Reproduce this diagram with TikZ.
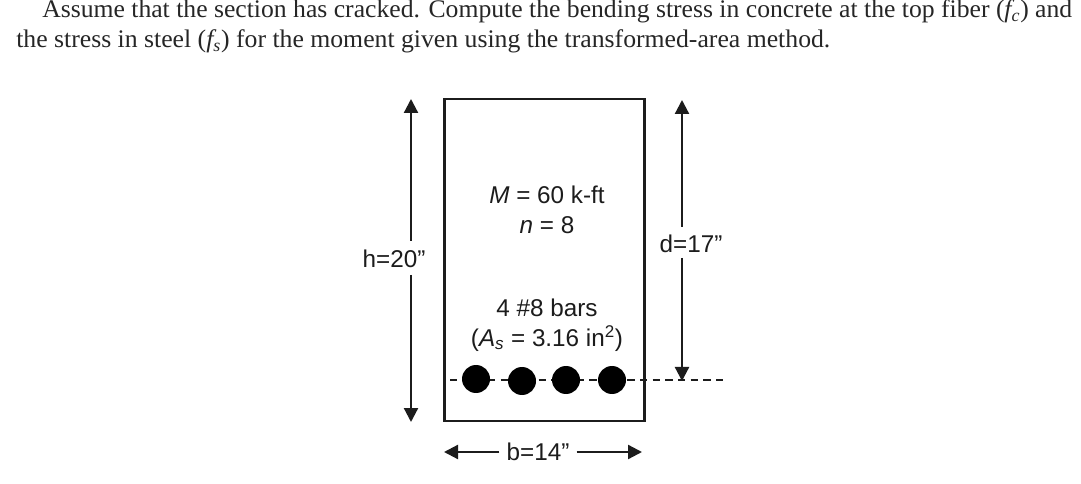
\documentclass[tikz,border=0pt]{standalone}
\usepackage{fontspec}
\usetikzlibrary{arrows.meta}
\setmainfont{Liberation Serif}
\newfontfamily\arialf{Liberation Sans}
\definecolor{ink}{HTML}{1C1C1C}
\tikzset{
  x=0.75pt,y=-0.75pt,
  prose/.style={anchor=base west,inner sep=0pt,text=black!85,font=\fontsize{19pt}{22pt}\selectfont},
  lab/.style={inner sep=0pt,text=ink,font=\arialf\fontsize{18.2pt}{22.3pt}\selectfont,align=center},
  section/.style={draw=ink,line width=1.6pt,minimum width=150pt,minimum height=241.5pt,inner sep=0pt},
  bar/.style={circle,fill=black,inner sep=0pt,minimum size=21pt},
  dim/.style={draw=ink,line width=1.7pt,-{Triangle[length=10.5pt,width=10.5pt]}},
  axisline/.style={draw=ink,line width=1.2pt,dash pattern=on 5.5pt off 4pt},
}
\begin{document}
\begin{tikzpicture}
\useasboundingbox (0,0) rectangle (1081,484);
\fill[white] (0,0) rectangle (1081,484);
\node[prose] (l1) at (42,18) {\resizebox{772.5pt}{\height}{Assume that the section has cracked. Compute the bending stress in concrete at the top fiber (\textit{f\textsubscript{c}}) and}};
\node[prose] (l2) at (16,48) {\resizebox{610.5pt}{\height}{the stress in steel (\textit{f\textsubscript{s}}) for the moment given using the transformed-area method.}};
\coordinate (axisL) at (450,380);
\coordinate (axisR) at (728,380);
\draw[axisline] (axisL) -- (axisR);
\node[section] (sec) at (544.5,260.2) {};
\node[bar] (b1) at (476,379) {};
\node[bar] (b2) at (522,381) {};
\node[bar] (b3) at (566,380) {};
\node[bar] (b4) at (612,380) {};
\node[lab] (load) at (547,210) {\textit{M} = 60 k-ft\\\textit{n} = 8};
\node[lab] (reb) at (547,325) {4 \#8 bars\\(\textit{A\textsubscript{s}} = 3.16 in\textsuperscript{2})};
\node[lab] (h) at (394,259) {h=20”};
\node[lab] (d) at (691,244) {d=17”};
\node[lab] (b) at (538,452) {b=14”};
\coordinate (hT) at (411,99);
\coordinate (hB) at (411,422);
\coordinate (dT) at (682,100);
\coordinate (dB) at (682,381);
\coordinate (bL) at (444,452);
\coordinate (bR) at (642,452);
\draw[dim] (411,241) -- (hT);
\draw[dim] (411,275) -- (hB);
\draw[dim] (682,227) -- (dT);
\draw[dim] (682,258) -- (dB);
\draw[dim] (b.west)++(-7,0) -- (bL);
\draw[dim] (b.east)++(7,0) -- (bR);
\end{tikzpicture}
\end{document}
